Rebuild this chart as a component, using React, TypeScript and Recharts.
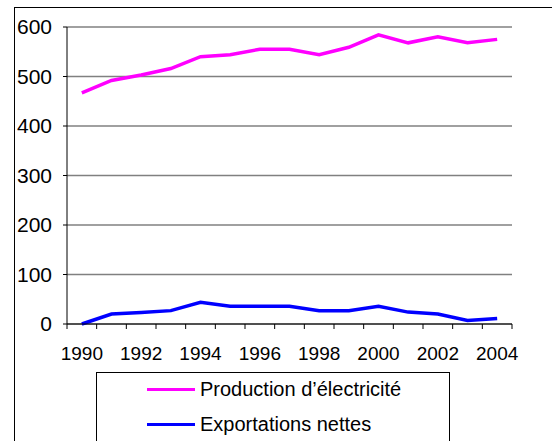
import { CartesianGrid, Line, LineChart, XAxis, YAxis } from "recharts";
import type { CSSProperties } from "react";

const years = [1990, 1991, 1992, 1993, 1994, 1995, 1996, 1997, 1998, 1999, 2000, 2001, 2002, 2003, 2004];
const production = [467, 492, 503, 516, 540, 544, 555, 555, 544, 559, 584, 568, 580, 568, 575];
const exportations = [0, 20, 23, 27, 44, 36, 36, 36, 27, 27, 36, 24, 20, 7, 11];
const yTicks = [0, 100, 200, 300, 400, 500, 600];
const yearLabels = [1990, 1992, 1994, 1996, 1998, 2000, 2002, 2004];
const yearBounds = [...years.map((y) => y - 0.5), years[years.length - 1] + 0.5];

const series = [
  { key: "production", name: "Production d\u2019électricité", color: "#ff00ff" },
  { key: "exportations", name: "Exportations nettes", color: "#0000ff" },
];

const data = years.map((year, i) => ({
  year,
  production: production[i],
  exportations: exportations[i],
}));

const FONT = '"Liberation Sans", Arial, sans-serif';

const pageStyle: CSSProperties = {
  position: "fixed",
  left: 0,
  top: 0,
  width: 552,
  height: 441,
  overflow: "hidden",
  background: "#fff",
  fontFamily: FONT,
};

// outer chart-area frame, only its left and top edges fall inside the picture
const frameStyle: CSSProperties = {
  position: "absolute",
  left: 14,
  top: 7,
  width: 560,
  height: 460,
  borderLeft: "1px solid #000",
  borderTop: "1px solid #000",
  zIndex: 5,
  pointerEvents: "none",
};

const legendStyle: CSSProperties = {
  position: "absolute",
  left: 96,
  top: 372,
  width: 352,
  height: 120,
  border: "1px solid #000",
  background: "#fff",
};

export default function App() {
  return (
    <div style={pageStyle}>
      <div style={{ position: "absolute", left: 0, top: 0, width: 552, height: 441 }}>
        <LineChart width={552} height={441} data={data} margin={{ top: 27, right: 40, left: 0, bottom: 0 }}>
          <CartesianGrid vertical={false} stroke="#808080" strokeWidth={1.5} />
          {/* tick marks sit between the years */}
          <XAxis
            xAxisId="a"
            dataKey="year"
            type="number"
            domain={[1989.5, 2004.5]}
            ticks={yearBounds}
            interval={0}
            height={1}
            tickFormatter={() => ""}
            tickSize={5}
            axisLine={{ stroke: "#000" }}
            tickLine={{ stroke: "#000" }}
          />
          <XAxis
            xAxisId="b"
            dataKey="year"
            type="number"
            domain={[1989.5, 2004.5]}
            ticks={yearLabels}
            interval={0}
            height={116}
            axisLine={false}
            tickLine={false}
            tickSize={0}
            tickMargin={22}
            tick={{ fill: "#000", fontSize: 19, fontFamily: FONT }}
          />
          <YAxis
            domain={[0, 600]}
            ticks={yTicks}
            interval={0}
            width={67}
            axisLine={{ stroke: "#000" }}
            tickLine={{ stroke: "#000" }}
            tickSize={4}
            tickMargin={11}
            tick={{ fill: "#000", fontSize: 21, fontFamily: FONT }}
          />
          {series.map((s) => (
            <Line
              key={s.key}
              xAxisId="a"
              type="linear"
              dataKey={s.key}
              name={s.name}
              stroke={s.color}
              strokeWidth={3.5}
              dot={false}
              isAnimationActive={false}
            />
          ))}
        </LineChart>
      </div>
      <div style={legendStyle}>
        {series.map((s, i) => (
          <div
            key={s.key}
            style={{
              position: "absolute",
              left: 50,
              top: 3 + i * 35,
              height: 26,
              display: "flex",
              alignItems: "center",
              whiteSpace: "nowrap",
            }}
          >
            <span style={{ display: "inline-block", width: 48, height: 3, background: s.color, marginRight: 5 }} />
            <span style={{ fontSize: 20, color: "#000" }}>{s.name}</span>
          </div>
        ))}
      </div>
      <div style={frameStyle} />
    </div>
  );
}
